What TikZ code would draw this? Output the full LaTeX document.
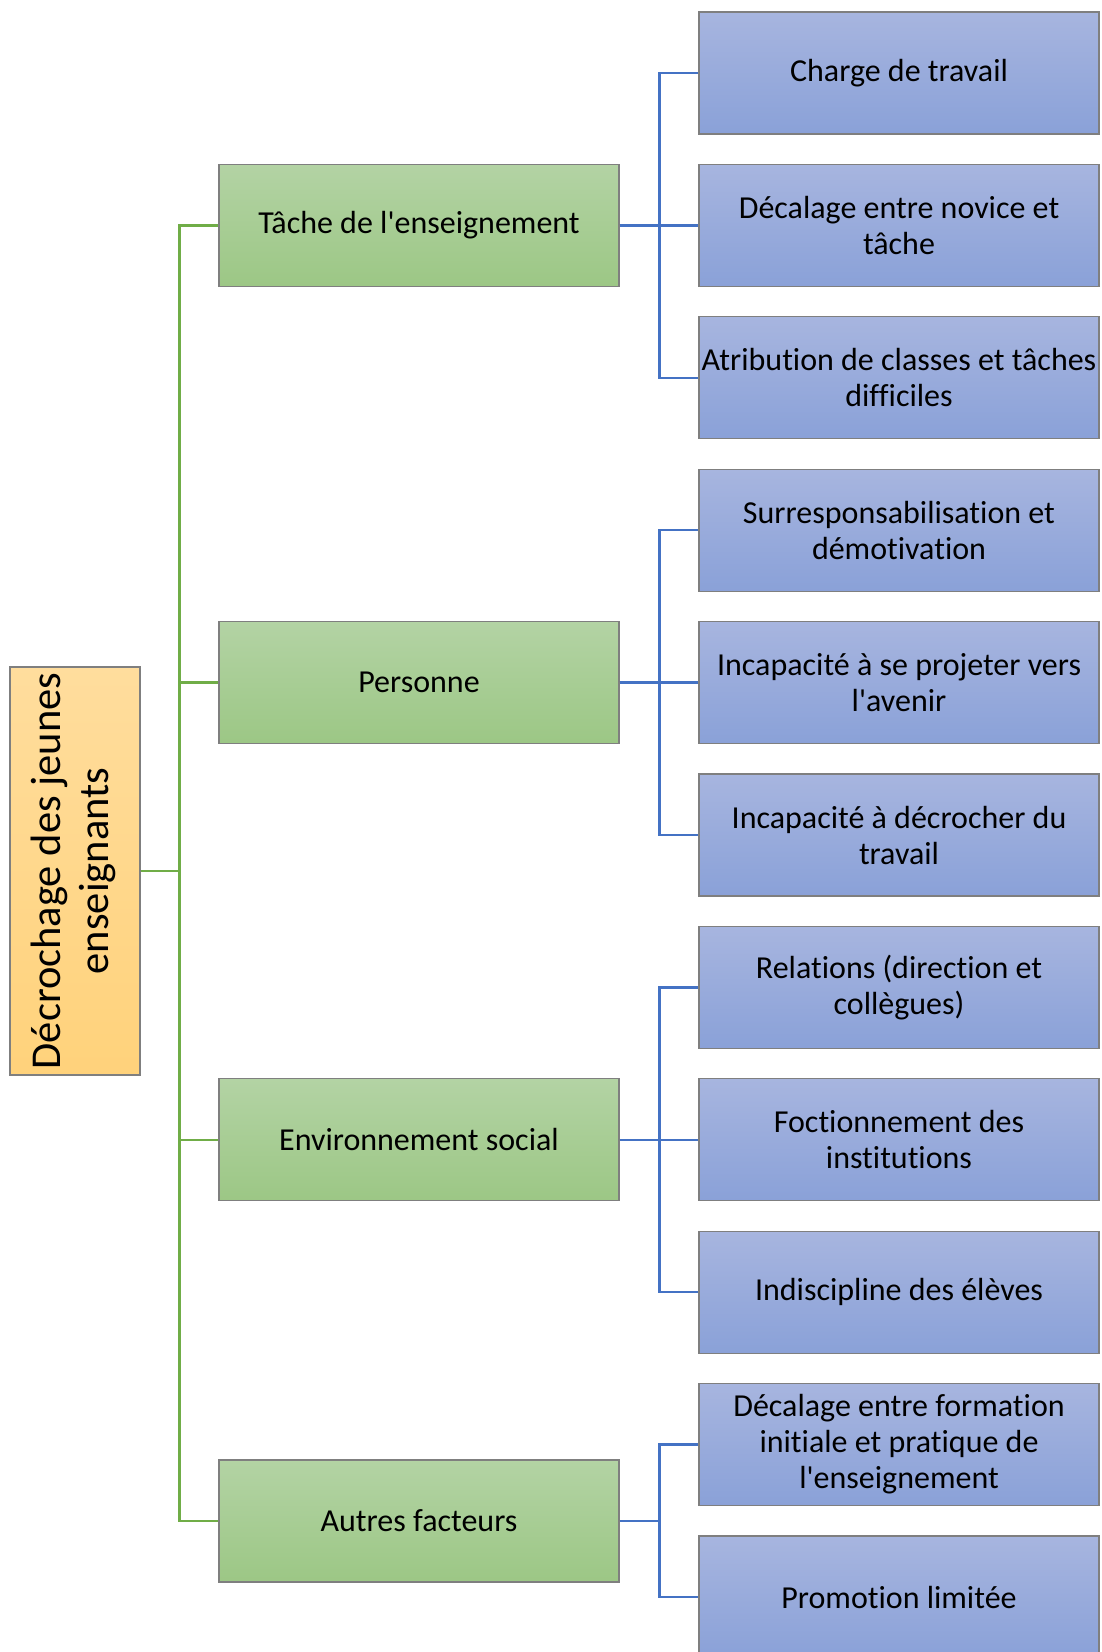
\documentclass[tikz,border=0pt]{standalone}
\usepackage{fontspec}
\setmainfont{Carlito}[Ligatures={TeXOff,CommonOff}]
\usepackage{graphicx}
\usepackage{tikz}
\usetikzlibrary{positioning}
\definecolor{bluetop}{HTML}{A7B5DF}
\definecolor{bluebot}{HTML}{8AA1D8}
\definecolor{greentop}{HTML}{B3D3A4}
\definecolor{greenbot}{HTML}{9CC785}
\definecolor{orangetop}{HTML}{FFDD9D}
\definecolor{orangebot}{HTML}{FFD27B}
\definecolor{boxline}{HTML}{7F7F7F}
\definecolor{bluelink}{HTML}{4472C4}
\definecolor{greenlink}{HTML}{70AD47}
\begin{document}
\begin{tikzpicture} [x = 1pt, y = -1pt,
  leaf/.style = {draw = boxline, line width = 1.2pt, top color = bluetop, bottom color = bluebot, minimum width = 400pt, minimum height = 122pt, inner sep = 0pt, align = center, font = \fontsize{32}{36}\selectfont},
  branch/.style = {leaf, top color = greentop, bottom color = greenbot},
  rootbox/.style = {draw = boxline, line width = 1.2pt, top color = orangetop, bottom color = orangebot, minimum width = 130pt, minimum height = 408pt, inner sep = 0pt, font = \fontsize{42.5}{48}\selectfont},
  bluewire/.style = {draw = bluelink, line width = 2.5pt},
  greenwire/.style = {draw = greenlink, line width = 2.5pt}]
\clip (0,0) rectangle (1102,1652);
\node[rootbox] (root) at (75,871) {\rotatebox{90}{\begin{tabular}{@{}c@{}}D\'ecrochage des jeunes\\enseignants\end{tabular}}};
\node[branch] (tache) at (419,225.4) {T\^ache de l'enseignement};
\node[branch] (pers) at (419,682.6) {Personne};
\node[branch] (env) at (419,1139.8) {Environnement social};
\node[branch] (autres) at (419,1521) {Autres facteurs};
\node[leaf] (charge) at (899,73) {Charge de travail};
\node[leaf, below = 29.2pt of charge] (novice) {D\'ecalage entre novice et\\t\^ache};
\node[leaf, below = 29.2pt of novice] (attrib) {Atribution de classes et t\^aches\\difficiles};
\node[leaf, below = 29.2pt of attrib] (surresp) {Surresponsabilisation et\\d\'emotivation};
\node[leaf, below = 29.2pt of surresp] (projet) {Incapacit\'e \`a se projeter vers\\l'avenir};
\node[leaf, below = 29.2pt of projet] (decroch) {Incapacit\'e \`a d\'ecrocher du\\travail};
\node[leaf, below = 29.2pt of decroch] (relat) {Relations (direction et\\coll\`egues)};
\node[leaf, below = 29.2pt of relat] (foct) {Foctionnement des\\institutions};
\node[leaf, below = 29.2pt of foct] (indisc) {Indiscipline des \'el\`eves};
\node[leaf, below = 29.2pt of indisc] (form) {D\'ecalage entre formation\\initiale et pratique de\\l'enseignement};
\node[leaf, below = 29.2pt of form] (promo) {Promotion limit\'ee};
\draw[greenwire] (root.east) -- ++(39,0) |- (tache.west);
\draw[greenwire] (root.east) -- ++(39,0) |- (pers.west);
\draw[greenwire] (root.east) -- ++(39,0) |- (env.west);
\draw[greenwire] (root.east) -- ++(39,0) |- (autres.west);
\draw[bluewire] (tache.east) -- ++(40,0) |- (charge.west);
\draw[bluewire] (tache.east) -- ++(40,0) |- (novice.west);
\draw[bluewire] (tache.east) -- ++(40,0) |- (attrib.west);
\draw[bluewire] (pers.east) -- ++(40,0) |- (surresp.west);
\draw[bluewire] (pers.east) -- ++(40,0) |- (projet.west);
\draw[bluewire] (pers.east) -- ++(40,0) |- (decroch.west);
\draw[bluewire] (env.east) -- ++(40,0) |- (relat.west);
\draw[bluewire] (env.east) -- ++(40,0) |- (foct.west);
\draw[bluewire] (env.east) -- ++(40,0) |- (indisc.west);
\draw[bluewire] (autres.east) -- ++(40,0) |- (form.west);
\draw[bluewire] (autres.east) -- ++(40,0) |- (promo.west);
\end{tikzpicture}
\end{document}
